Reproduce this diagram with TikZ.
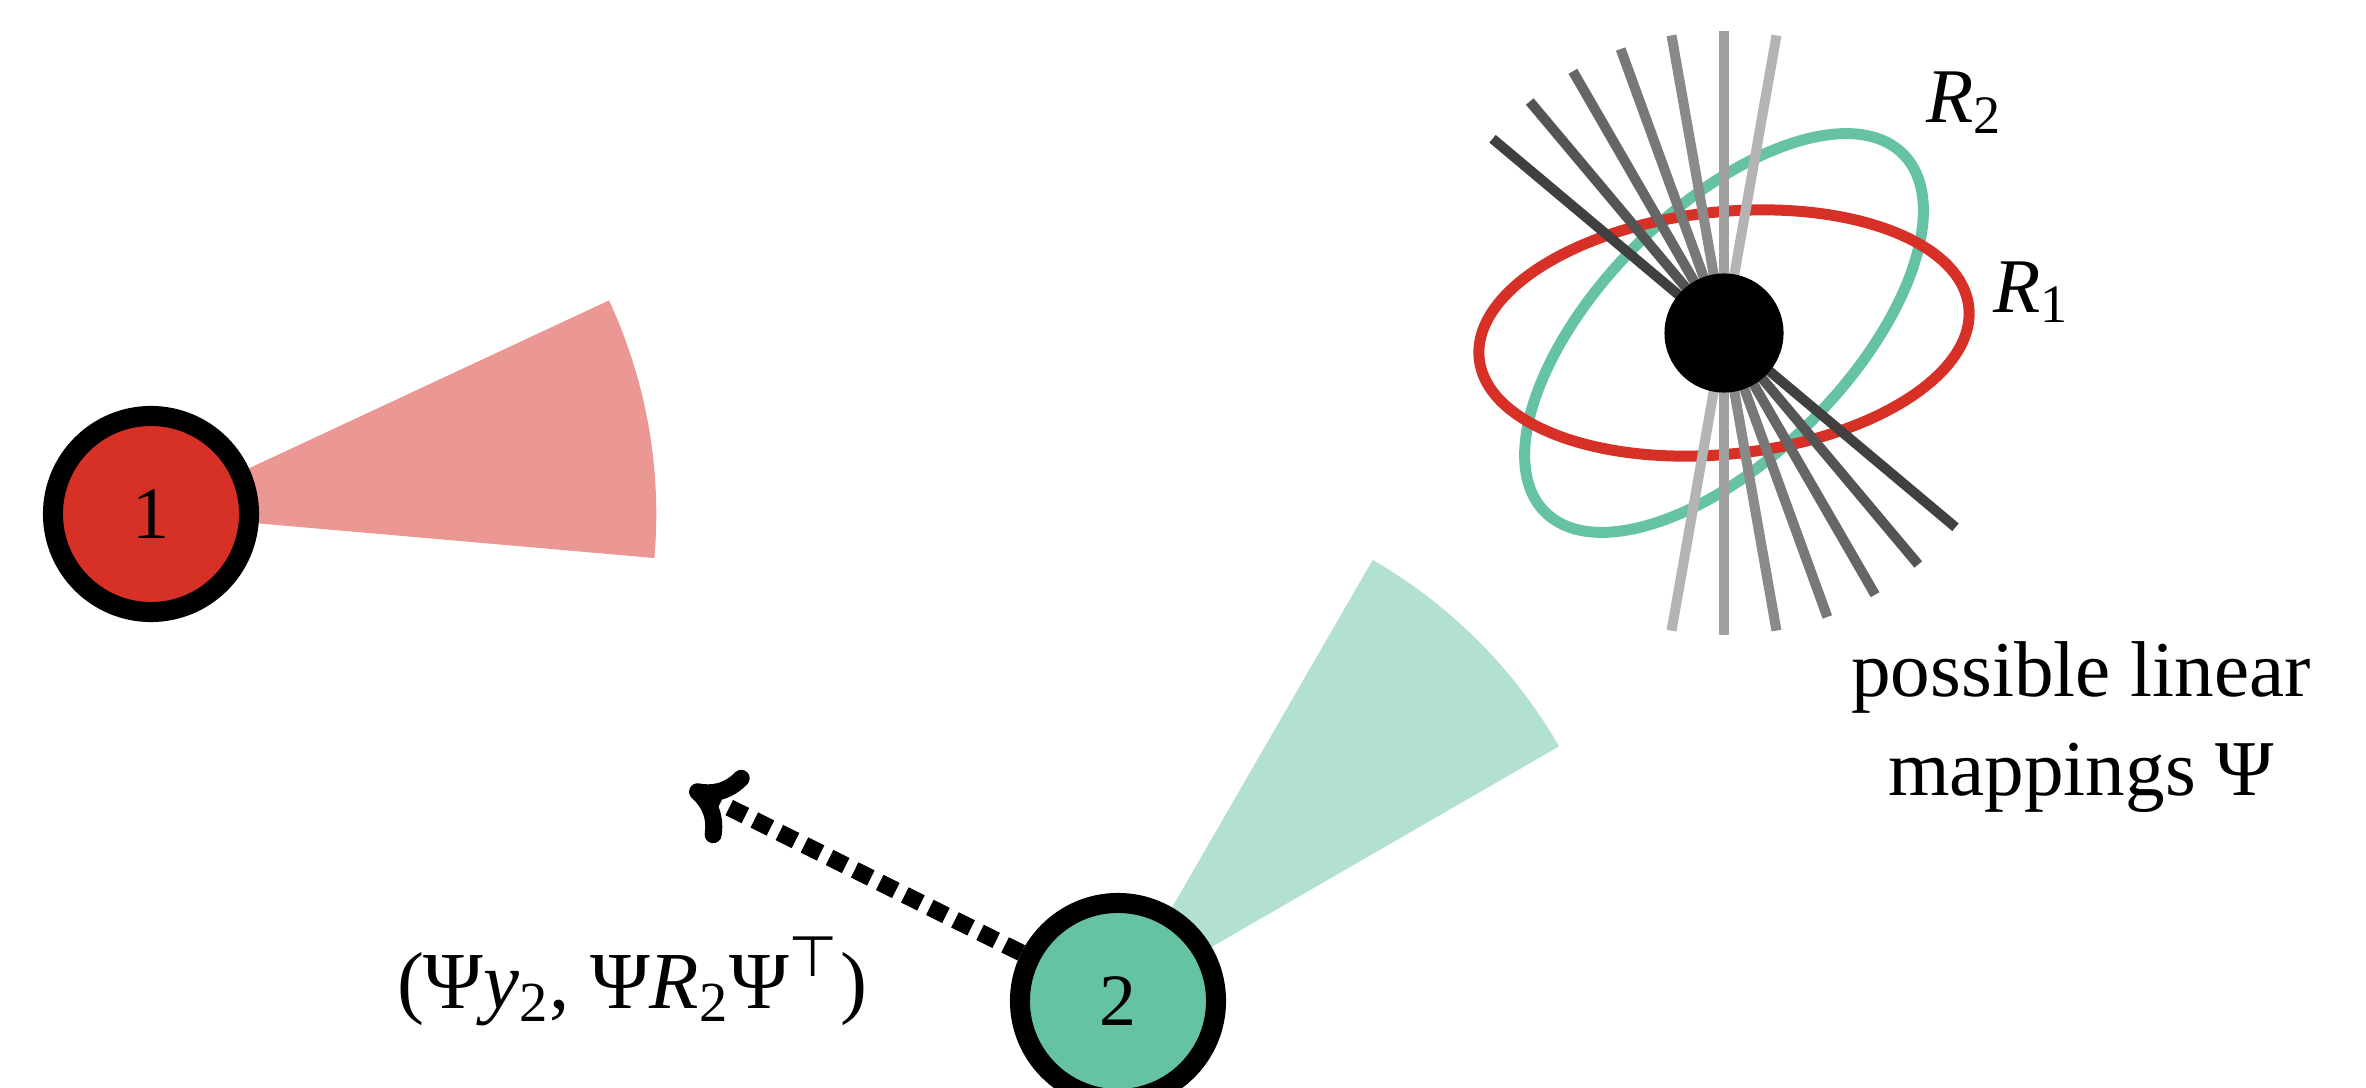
\documentclass[tikz,border=0pt]{standalone}
\usepackage{fontspec}
\setmainfont{Liberation Serif}
\newfontfamily\symfont{DejaVu Sans}
\usetikzlibrary{arrows.meta}

\definecolor{tred}{HTML}{D73027}
\definecolor{tgreen}{HTML}{66C2A5}

\tikzset{
  agent/.style={circle, draw=black, line width=0.2cm, minimum size=1.96cm,
                inner sep=0pt, outer sep=0.1cm, font=\fontsize{21}{25}\selectfont},
  cov/.style={line width=0.11cm},
  mapline/.style={line width=0.1cm},
  message/.style={line width=0.17cm, dash pattern=on 0.18cm off 0.1cm,
                  -{Computer Modern Rightarrow[length=0.5cm, width=0.8cm, round]}},
  sym/.style={font=\fontsize{22}{26}\selectfont, inner sep=0pt},
}

\begin{document}
\begin{tikzpicture}[x=0.01cm, y=-0.01cm, font=\fontsize{22.5}{27.9}\selectfont]
  \useasboundingbox (0,0) rectangle (2366,1088);

  % agent positions
  \coordinate (c1) at (151,514);
  \coordinate (c2) at (1118,1001);
  \coordinate (c0) at (1724,333);

  % view cones of the two agents
  \fill[tred!50] (c1) -- ++(-5:5.05cm) arc[start angle=-5, end angle=25, radius=5.05cm] -- cycle;
  \fill[tgreen!50] (c2) -- ++(30:5.09cm) arc[start angle=30, end angle=60, radius=5.09cm] -- cycle;

  % agents
  \node[agent, fill=tred] (n1) at (c1) {1};
  \node[agent, fill=tgreen] (n2) at (c2) {2};

  % transmitted message
  \coordinate (tip) at (690,788);
  \draw[message] (n2) -- (tip);
  \node[anchor=base, font=\fontsize{23}{27}\selectfont] (msg) at (632,1008)
    {(Ψ\textit{y}\textsubscript{2}, Ψ\textit{R}\textsubscript{2}Ψ\textsuperscript{\symfont ⊤})};

  % covariance ellipses
  \draw[cov, tgreen, rotate around={45:(c0)}] (c0) ellipse [x radius=2.53cm, y radius=1.24cm];
  \draw[cov, tred, rotate around={6:(c0)}] (c0) ellipse [x radius=2.46cm, y radius=1.21cm];

  % family of candidate linear mappings
  \foreach \ang/\shade in {140/64, 130/84, 120/102, 110/120, 100/138, 90/160, 80/180} {
    \definecolor{linegray}{RGB}{\shade,\shade,\shade}
    \draw[mapline, linegray, shift={(c0)}] (\ang:3.02cm) -- (\ang+180:3.02cm);
  }

  % common point
  \node[circle, fill=black, minimum size=1.19cm, inner sep=0pt] (dot) at (c0) {};

  \node[sym, anchor=base west] (r2) at (1926,123) {\textit{R}\textsubscript{2}};
  \node[sym, anchor=base west] (r1) at (1993,312) {\textit{R}\textsubscript{1}};
  \node[anchor=base, align=center] (maps) at (2081,795) {possible linear\\mappings Ψ};
\end{tikzpicture}
\end{document}
